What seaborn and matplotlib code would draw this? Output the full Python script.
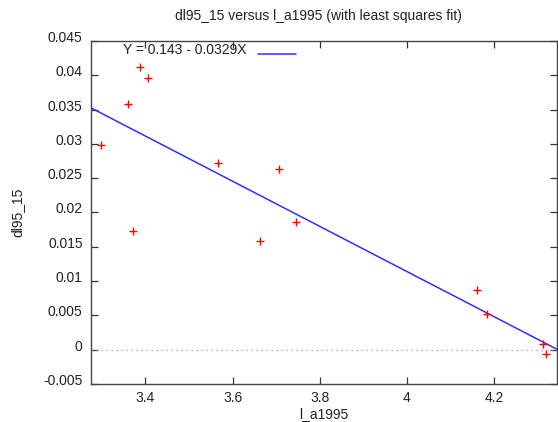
import matplotlib
matplotlib.use("Agg")
import matplotlib.pyplot as plt
import matplotlib.transforms as mtransforms
import seaborn as sns
import numpy as np
import pandas as pd
from matplotlib.lines import Line2D

# ---- data ----
l_a1995 = [3.298, 3.359, 3.388, 3.406, 3.371, 3.5665, 3.706, 3.745, 3.662,
           4.161, 4.184, 4.3126, 4.3203]
dl95_15 = [0.02984, 0.03577, 0.04117, 0.03965, 0.0173, 0.02717, 0.02634,
           0.01862, 0.01585, 0.0087, 0.00516, 0.00087, -0.00067]
fit_intercept = 0.143
fit_slope = -0.0329
x_limits = [3.275, 4.3446]
y_limits = [-0.005, 0.045]
x_ticks = [3.4, 3.6, 3.8, 4.0, 4.2]
x_tick_labels = ["3.4", "3.6", "3.8", "4", "4.2"]
y_ticks = [-0.005, 0.0, 0.005, 0.01, 0.015, 0.02, 0.025, 0.03, 0.035, 0.04, 0.045]
y_tick_labels = ["-0.005", "0", "0.005", "0.01", "0.015", "0.02", "0.025",
                 "0.03", "0.035", "0.04", "0.045"]
title = "dl95_15 versus l_a1995 (with least squares fit)"
x_label = "l_a1995"
y_label = "dl95_15"
fit_label = "Y = 0.143 - 0.0329X"

df = pd.DataFrame({"l_a1995": l_a1995, "dl95_15": dl95_15})
fit_df = pd.DataFrame({"x": x_limits,
                       "y": [fit_intercept + fit_slope * v for v in x_limits]})

sns.set_style("ticks")
plt.rcParams["font.family"] = ["Liberation Sans", "DejaVu Sans"]
FS = 10
TXT = "#222222"
BLUE = "#2f2fff"

W, H = 558, 422
fig = plt.figure(figsize=(W / 100, H / 100), dpi=100)
ax = fig.add_axes([91 / W, (H - 384) / H, 466 / W, 343 / H])

# zero line
ax.axhline(0, color="#9a9a9a", lw=0.9, ls=(0, (1, 3)), zorder=1)

sns.lineplot(data=fit_df, x="x", y="y", ax=ax, color=BLUE, lw=1.1,
             zorder=2, legend=False)
sns.scatterplot(data=df, x="l_a1995", y="dl95_15", ax=ax, marker="+",
                color="#ff0000", s=32, linewidth=1.0, zorder=3, legend=False)

ax.set_xlim(*x_limits)
ax.set_ylim(*y_limits)
ax.set_xticks(x_ticks)
ax.set_xticklabels(x_tick_labels)
ax.set_yticks(y_ticks)
ax.set_yticklabels(y_tick_labels)
ax.tick_params(direction="in", length=5, width=0.9, color="#333333",
               top=True, right=True, labelsize=FS, labelcolor=TXT)
ax.tick_params(axis="y", pad=6)
ax.tick_params(axis="x", pad=5)
shift_up = mtransforms.ScaledTranslation(0, 4.5 / 100, fig.dpi_scale_trans)
for lab in ax.get_yticklabels():
    lab.set_transform(lab.get_transform() + shift_up)
for sp in ax.spines.values():
    sp.set_visible(True)
    sp.set_color("#444444")
    sp.set_linewidth(1.0)

ax.set_xlabel("")
ax.set_ylabel("")
fig.text(324 / W, 1 - 414 / H, x_label, ha="center", va="center",
         fontsize=FS, color=TXT)
fig.text(17 / W, 1 - 212 / H, y_label, ha="center", va="center",
         rotation=90, fontsize=FS, color=TXT)
fig.text(318 / W, 1 - 16 / H, title, ha="center", va="center",
         fontsize=FS, color=TXT)

handle = Line2D([], [], color=BLUE, lw=1.1)
leg = ax.legend([handle], [fit_label], loc="upper left",
                bbox_to_anchor=((121 - 91) / 466, 1.0), frameon=False,
                markerfirst=False, handlelength=2.75, handletextpad=0.8,
                borderpad=0.15, borderaxespad=0.0, fontsize=FS)
for t in leg.get_texts():
    t.set_color(TXT)
shift_down = mtransforms.ScaledTranslation(0, -4.5 / 100, fig.dpi_scale_trans)
for ln in leg.get_lines():
    ln.set_transform(ln.get_transform() + shift_down)

fig.savefig("out.png", dpi=100)
